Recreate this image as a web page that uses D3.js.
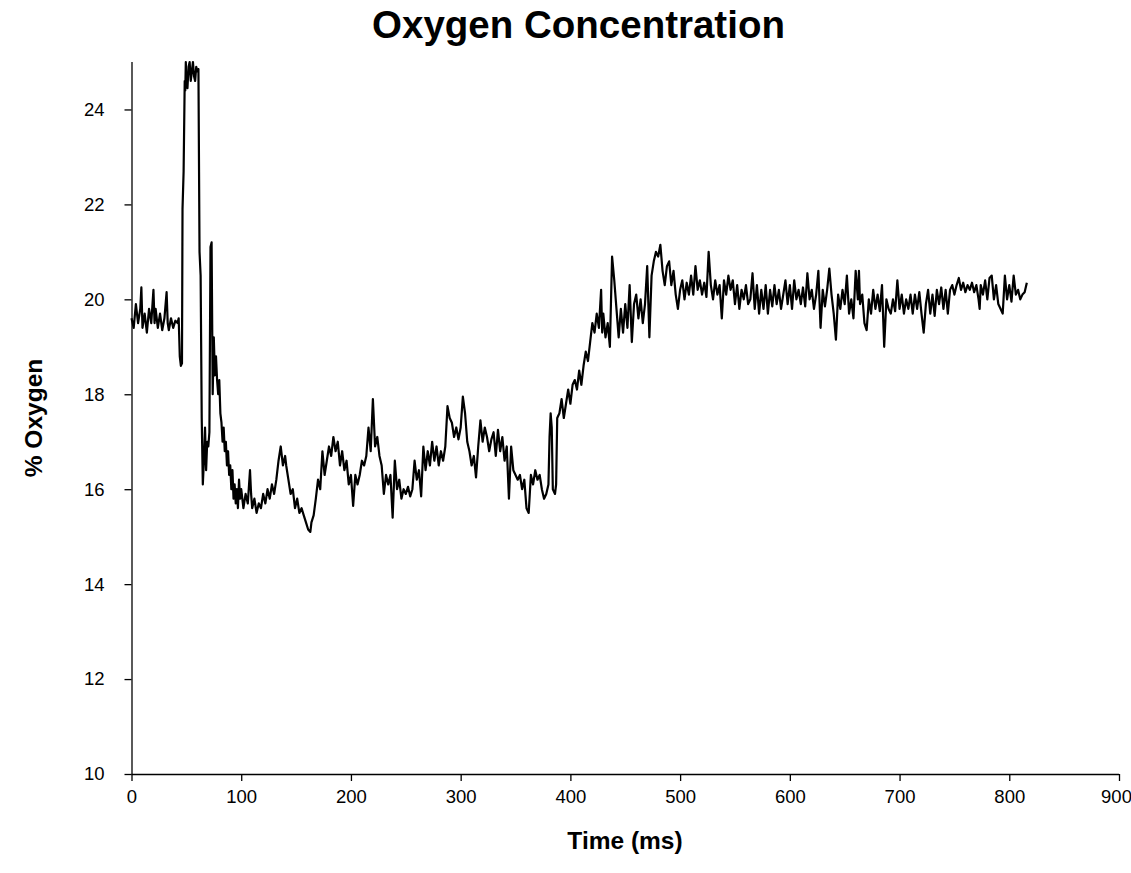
<!DOCTYPE html>
<html>
<head>
<meta charset="utf-8">
<script src="https://cdn.jsdelivr.net/npm/d3@7"></script>
<style>
  html, body { margin: 0; padding: 0; background: #ffffff; }
  svg { display: block; }
  text { font-family: "Liberation Sans", Arial, sans-serif; fill: #000; }
</style>
</head>
<body>
<svg id="chart" width="1131" height="873"></svg>
<script>
// ---- data ----
const chartTitle = "Oxygen Concentration";
const xLabel = "Time (ms)";
const yLabel = "% Oxygen";
const xTicks = [0, 100, 200, 300, 400, 500, 600, 700, 800, 900];
const yTicks = [10, 12, 14, 16, 18, 20, 22, 24];

const timeMs = [
  0,2,4,6,8,9,10,12,14,16,18,20,21,22,24,26,28,30,32,33,34,36,38,40,42,43,44,45,46,
  46.5,47.5,48.5,49,49.5,50,51,52,53,54,55,56,57,58,59,60,61,62,63,64,65,66,67,68,69,70,71,72,73,74,75,76,77,78,79,80,
  81,82,83,84,85,86,87,88,89,90,91,92,93,94,95,96,97,98,99,
  100,102,104,106,108,109,110,112,114,116,118,120,122,124,126,128,130,132,134,136,138,140,141,143,145,147,149,151,153,155,157,159,161,163,
  164,166,168,170,172,174,176,178,180,182,184,186,188,190,192,194,196,198,200,202,204,206,208,210,212,214,216,218,220,222,224,226,228,230,232,
  234,236,238,240,242,244,246,248,250,252,254,256,258,260,262,264,266,268,270,272,274,276,278,280,282,284,286,288,290,292,294,296,298,300,302,304,306,308,310,312,314,316,318,320,322,324,326,328,330,332,334,336,338,340,342,344,346,348,350,352,354,356,358,360,
  362,364,366,368,370,372,374,376,378,380,381,382,383,384,386,387,388,390,392,394,396,398,400,402,404,406,408,410,412,414,416,418,420,422,424,426,
  428,429,430,432,434,436,438,440,442,444,446,448,450,452,454,456,458,460,462,464,466,468,470,472,474,476,478,480,482,484,486,488,490,492,494,496,498,500,
  502,504,506,508,510,512,514,516,518,520,522,524,526,528,530,532,534,536,538,540,542,544,546,548,550,552,554,556,558,560,562,
  564,566,568,570,572,574,576,578,580,582,584,586,588,590,592,594,596,598,600,602,604,606,608,610,612,614,616,618,620,622,624,626,628,630,632,634,636,638,640,642,644,646,648,650,652,654,656,658,660,662,663,664,666,668,670,672,674,676,678,680,682,684,686,688,690,
  692,694,696,698,700,702,704,706,708,710,712,714,716,718,720,722,724,726,728,730,732,734,736,738,740,742,744,746,748,750,752,754,756,758,760,762,764,766,768,770,772,773,774,776,778,780,782,784,786,788,790,794,796,798,800,802,804,806,808,810,812,814,816
];

const oxygenPct = [
  19.6,19.4,19.9,19.5,19.8,20.25,19.4,19.7,19.3,19.8,19.5,20.2,19.5,19.8,19.4,19.7,19.35,19.6,20.15,19.5,19.35,19.6,19.4,19.55,19.5,19.6,18.8,18.6,18.65,
  21.9,22.7,24.6,24.4,25.0,24.6,24.45,24.9,25.0,24.6,24.8,25.0,24.7,24.6,24.9,24.8,24.85,21.0,20.5,17.5,16.1,16.6,17.3,16.4,17.0,16.9,17.2,21.1,21.2,18.0,19.2,18.4,18.8,18.3,18.0,18.3,
  17.6,17.4,17.0,17.3,16.8,17.0,16.5,16.8,16.3,16.5,16.0,16.4,15.8,16.1,15.7,16.0,15.6,16.2,15.8,
  16.0,15.6,15.9,15.7,16.4,15.9,15.6,15.8,15.5,15.7,15.6,15.9,15.7,16.0,15.8,16.1,15.9,16.2,16.6,16.9,16.5,16.7,16.5,16.2,15.9,16.0,15.6,15.8,15.5,15.6,15.45,15.3,15.15,15.1,
  15.3,15.45,15.8,16.2,16.0,16.8,16.3,16.6,16.9,16.7,17.1,16.8,17.0,16.5,16.8,16.4,16.6,16.1,16.3,15.65,16.3,16.1,16.3,16.6,16.5,16.7,17.3,16.8,17.9,16.9,17.1,16.7,16.5,15.9,16.3,
  16.1,16.3,15.4,16.6,16.0,16.2,15.8,16.0,15.9,16.05,15.85,16.0,16.6,16.2,16.4,15.85,16.9,16.4,16.8,16.5,17.0,16.6,16.9,16.5,16.8,16.6,16.9,17.75,17.5,17.4,17.1,17.3,17.05,17.3,17.95,17.6,17.0,16.8,16.5,16.7,16.25,16.9,17.45,17.0,17.3,17.1,16.8,17.05,17.2,16.7,17.25,16.8,17.1,16.6,16.9,15.8,16.9,16.4,16.3,16.2,16.3,16.0,16.2,15.6,
  15.5,16.3,16.1,16.4,16.2,16.3,16.0,15.8,15.9,16.1,17.1,17.6,17.3,16.0,15.9,16.1,17.5,17.6,17.9,17.5,17.8,18.1,17.8,18.2,18.3,18.1,18.5,18.2,18.6,18.9,18.7,19.1,19.5,19.3,19.7,19.4,
  20.2,19.3,19.7,19.2,19.5,19.0,20.9,20.4,19.8,19.2,19.8,19.3,19.9,19.4,20.3,19.1,19.9,20.1,19.6,20.0,19.5,19.9,20.7,19.2,20.5,20.8,21.0,20.9,21.15,20.6,20.3,20.7,20.8,20.3,20.6,20.1,19.8,20.2,
  20.4,20.0,20.35,20.1,20.5,20.1,20.7,20.2,20.4,20.1,20.35,20.05,21.0,20.3,20.0,20.4,20.1,20.3,19.6,20.4,20.1,20.5,20.2,20.4,19.9,20.3,19.8,20.2,20.0,20.3,19.9,
  20.0,20.55,19.8,20.3,19.7,20.2,19.8,20.3,19.7,20.2,19.85,20.3,19.9,20.2,19.8,20.1,20.4,19.9,20.3,19.8,20.4,20.0,20.2,19.9,20.25,19.85,20.55,20.0,20.2,19.8,20.1,20.6,19.4,20.2,19.85,20.2,20.65,20.1,19.7,19.15,20.1,19.8,20.2,19.9,20.5,19.7,20.0,19.6,20.6,20.0,20.6,19.9,20.1,19.5,19.35,20.0,19.7,20.2,19.8,20.1,19.75,20.3,19.0,20.0,19.8,
  19.7,20.0,19.75,20.4,19.8,20.1,19.7,20.0,19.8,20.1,19.7,20.1,19.8,20.15,19.7,19.3,19.9,20.2,19.7,20.1,19.65,20.2,19.9,20.25,19.8,20.2,19.7,20.2,20.3,20.1,20.3,20.45,20.2,20.35,20.15,20.3,20.2,20.35,20.15,20.3,20.0,19.8,20.3,20.1,20.4,20.0,20.45,20.5,20.0,20.3,19.9,19.7,20.5,20.0,20.3,19.95,20.5,20.1,20.2,20.0,20.1,20.15,20.35
];

const series = timeMs.map((t, i) => ({ t: t, v: oxygenPct[i] }));

// ---- layout ----
const svg = d3.select("#chart");

const x = d3.scaleLinear().domain([0, 900]).range([131.5, 1119]);
const y = d3.scaleLinear().domain([10, 25]).range([774, 62]);

// axes
const xAxis = d3.axisBottom(x).tickValues(xTicks).tickSize(7).tickPadding(9).tickFormat(d3.format("d"));
const yAxis = d3.axisLeft(y).tickValues(yTicks).tickSize(7).tickPadding(20).tickFormat(d3.format("d"));

const gx = svg.append("g").attr("transform", "translate(0,774)").call(xAxis);
const gy = svg.append("g").attr("transform", "translate(131.5,0)").call(yAxis);

[gx, gy].forEach(g => {
  g.select(".domain").attr("stroke", "#000").attr("stroke-width", 1.3);
  g.selectAll(".tick line").attr("stroke", "#000").attr("stroke-width", 1.3);
  g.selectAll(".tick text").attr("font-family", "Liberation Sans, Arial, sans-serif")
    .attr("font-size", 18.5).attr("fill", "#000");
});
gy.select(".domain").attr("d", `M0.5,${y(25)}V${y(10)}`);
gx.select(".domain").attr("d", `M${x(0)},0.5H${x(900)}`);
// keep the last x label inside the picture, as in the reference
gx.selectAll(".tick text").filter(d => d === 900).attr("dx", -3);

// line
const line = d3.line().x(d => x(d.t)).y(d => y(d.v)).curve(d3.curveLinear);
svg.append("path")
  .datum(series)
  .attr("fill", "none")
  .attr("stroke", "#000")
  .attr("stroke-width", 2.2)
  .attr("stroke-linejoin", "round")
  .attr("d", line);

// titles
svg.append("text")
  .attr("x", 578.5).attr("y", 38)
  .attr("text-anchor", "middle")
  .attr("font-size", 38.5).attr("font-weight", "bold")
  .text(chartTitle);

svg.append("text")
  .attr("x", 625).attr("y", 849)
  .attr("text-anchor", "middle")
  .attr("font-size", 24.5).attr("font-weight", "bold")
  .text(xLabel);

svg.append("text")
  .attr("transform", "translate(42,418) rotate(-90)")
  .attr("text-anchor", "middle")
  .attr("font-size", 24.5).attr("font-weight", "bold")
  .text(yLabel);
</script>
</body>
</html>
